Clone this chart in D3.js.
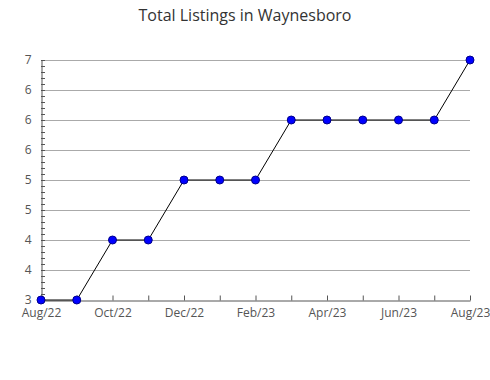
<!DOCTYPE html>
<html>
<head>
<meta charset="utf-8">
<script src="https://cdn.jsdelivr.net/npm/d3@7"></script>
<style>
  body { margin: 0; background: #fff; }
  text { font-family: "Open Sans", sans-serif; }
</style>
</head>
<body>
<svg id="chart"></svg>
<script>
// data
var months = ["Aug/22","Sep/22","Oct/22","Nov/22","Dec/22","Jan/23","Feb/23",
              "Mar/23","Apr/23","May/23","Jun/23","Jul/23","Aug/23"];
var listings = [3, 3, 4, 4, 5, 5, 5, 6, 6, 6, 6, 6, 7];
var yTicks = [3, 3.5, 4, 4.5, 5, 5.5, 6, 6.5, 7];
var yTickLabels = ["3", "4", "4", "5", "5", "6", "6", "6", "7"];

var width = 490, height = 380;
var plotLeft = 41, plotRight = 470, plotTop = 60, plotBottom = 300;

var svg = d3.select("#chart")
  .attr("width", width)
  .attr("height", height);

var x = d3.scalePoint()
  .domain(months)
  .range([plotLeft, plotRight]);

var y = d3.scaleLinear()
  .domain([3, 7])
  .range([plotBottom, plotTop]);

// title
svg.append("text")
  .attr("x", 245)
  .attr("y", 21)
  .attr("text-anchor", "middle")
  .style("font-size", "16px")
  .style("fill", "#333")
  .text("Total Listings in Waynesboro");

// gridlines
svg.append("g")
  .selectAll("line")
  .data(yTicks.slice(1))
  .join("line")
  .attr("x1", plotLeft)
  .attr("x2", plotRight)
  .attr("y1", function(d) { return Math.round(y(d)) + 0.5; })
  .attr("y2", function(d) { return Math.round(y(d)) + 0.5; })
  .attr("stroke", "#aaa")
  .attr("stroke-width", 1);

// minor ticks on y axis
svg.append("g")
  .selectAll("line")
  .data(d3.range(30, 71).map(function(d) { return d / 10; }))
  .join("line")
  .attr("x1", plotLeft)
  .attr("x2", plotLeft + 4)
  .attr("y1", function(d) { return Math.round(y(d)) + 0.5; })
  .attr("y2", function(d) { return Math.round(y(d)) + 0.5; })
  .attr("stroke", "#555");

// y axis
var yAxis = svg.append("g")
  .attr("transform", "translate(" + (plotLeft + 0.5) + ",0)")
  .call(d3.axisLeft(y)
    .tickValues(yTicks)
    .tickSize(0)
    .tickPadding(10)
    .tickFormat(function(d, i) { return yTickLabels[i]; }));
yAxis.select(".domain").attr("stroke", "#555");
yAxis.selectAll("text")
  .style("font-size", "12px")
  .style("fill", "#555")
  .style("font-family", "Open Sans");

// x axis
var xAxis = svg.append("g")
  .attr("transform", "translate(0," + (plotBottom + 0.5) + ")")
  .call(d3.axisBottom(x)
    .tickSizeInner(-5)
    .tickSizeOuter(0)
    .tickPadding(8)
    .tickFormat(function(d, i) { return i % 2 == 0 ? d : ""; }));
xAxis.select(".domain").attr("stroke", "#555");
xAxis.selectAll("line").attr("stroke", "#555");
xAxis.selectAll("text")
  .style("font-size", "12px")
  .style("fill", "#555")
  .style("font-family", "Open Sans");

// line
var line = d3.line()
  .x(function(d, i) { return x(months[i]); })
  .y(function(d) { return y(d); });

svg.append("path")
  .datum(listings)
  .attr("d", line)
  .attr("fill", "none")
  .attr("stroke", "#000")
  .attr("stroke-width", 1);

// points
svg.append("g")
  .selectAll("circle")
  .data(listings)
  .join("circle")
  .attr("cx", function(d, i) { return x(months[i]); })
  .attr("cy", function(d) { return y(d); })
  .attr("r", 4)
  .attr("fill", "#0000ff")
  .attr("stroke", "#00008b")
  .attr("stroke-width", 1);
</script>
</body>
</html>
